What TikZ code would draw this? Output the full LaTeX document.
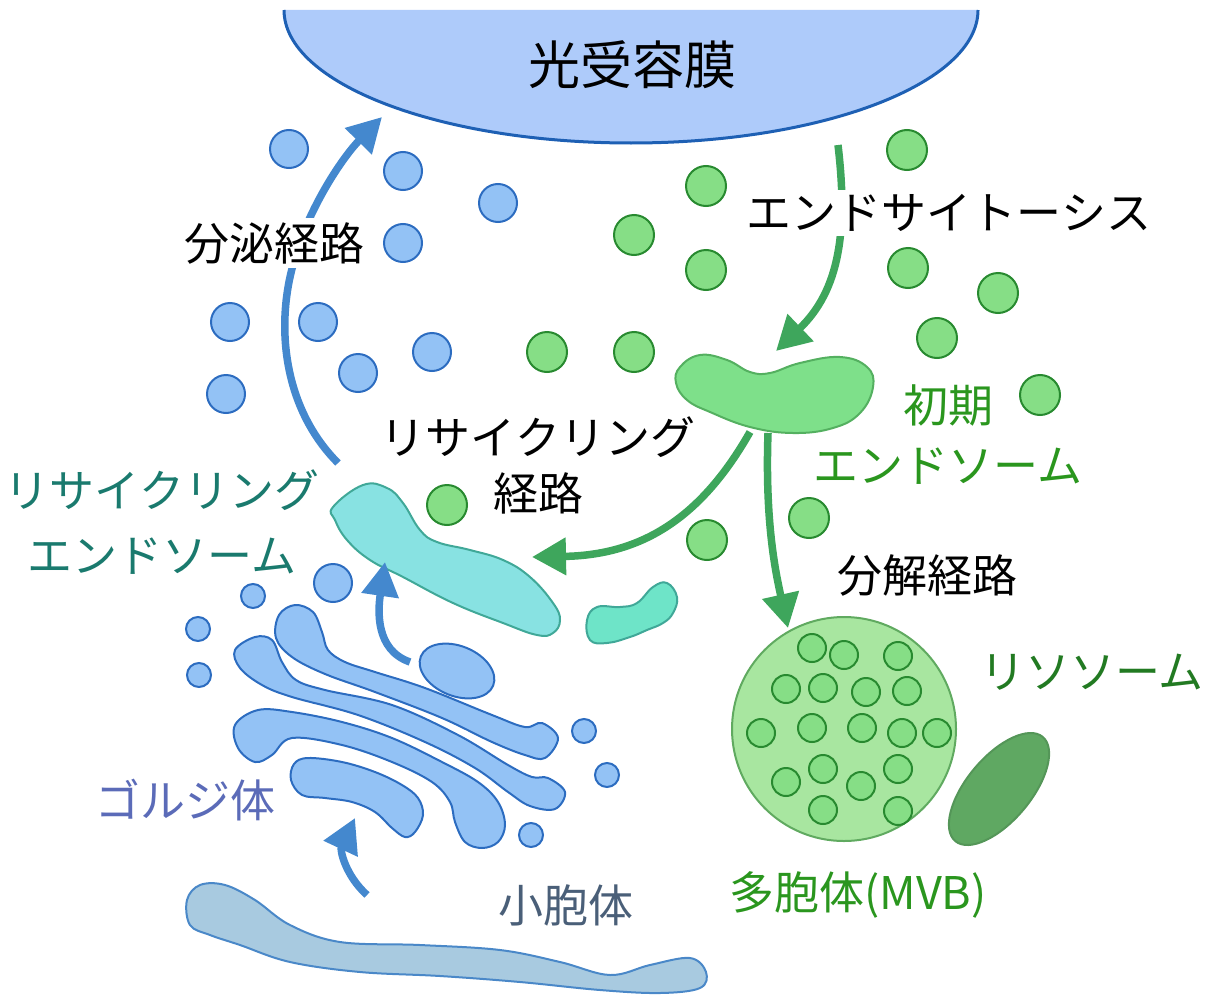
\documentclass[tikz,border=0pt]{standalone}
\usepackage{fontspec}
\setmainfont{Noto Sans CJK JP}
\usepackage{tikz}
\usepackage{xcolor}
\definecolor{cellmembrane}{RGB}{174, 203, 250}
\definecolor{cellmembraneline}{RGB}{30, 96, 180}
\definecolor{cellblue}{RGB}{147, 194, 245}
\definecolor{cellblueline}{RGB}{44, 108, 192}
\definecolor{cellarrowblue}{RGB}{68, 136, 206}
\definecolor{cellgreen}{RGB}{134, 222, 134}
\definecolor{cellgreenline}{RGB}{40, 138, 48}
\definecolor{cellarrowgreen}{RGB}{62, 166, 92}
\definecolor{cellearly}{RGB}{126, 224, 138}
\definecolor{cellearlyline}{RGB}{84, 176, 96}
\definecolor{cellteal}{RGB}{136, 226, 226}
\definecolor{cellmint}{RGB}{110, 228, 200}
\definecolor{celltealline}{RGB}{64, 168, 152}
\definecolor{cellmvb}{RGB}{168, 230, 160}
\definecolor{cellmvbline}{RGB}{96, 170, 96}
\definecolor{celllyso}{RGB}{95, 168, 98}
\definecolor{celllysoline}{RGB}{84, 150, 88}
\definecolor{cellER}{RGB}{168, 202, 224}
\definecolor{cellERline}{RGB}{74, 136, 200}
\definecolor{textgreen}{RGB}{42, 150, 30}
\definecolor{textdarkgreen}{RGB}{34, 122, 34}
\definecolor{textteal}{RGB}{26, 122, 110}
\definecolor{textgolgi}{RGB}{91, 107, 184}
\definecolor{textER}{RGB}{74, 95, 120}
\usetikzlibrary{arrows.meta}

\begin{document}
\begin{tikzpicture}[x=0.5pt, y=-0.5pt,
    bluevesicle/.style={line width=1pt, fill=cellblue, draw=cellblueline},
    greenvesicle/.style={line width=1pt, fill=cellgreen, draw=cellgreenline},
    golgi/.style={line width=1pt, fill=cellblue, draw=cellblueline},
    pathway/.style={line width=3.75pt, draw=#1, -{Triangle[length=17pt, width=18pt]}},
    lbl/.style={font=\fontsize{22.5pt}{30pt}\selectfont, align=center, inner sep=2pt}]
    \useasboundingbox (0, 0) rectangle (1208, 995);

    % Photoreceptor membrane
    \fill[cellmembrane] (284, 10) arc[start angle=180, end angle=0, x radius=347, y radius=133] -- cycle;
    \draw[cellmembraneline, line width=1.5pt] (284, 10) arc[start angle=180, end angle=0, x radius=347, y radius=133];

    % Vesicles on the secretory side
    \foreach \x/\y/\r in {289/149/19, 403/171/19, 498/203/19, 403/243/19, 230/322/19, 318/322/19,
                          358/373/19, 432/352/19, 226/394/19, 333/583/19, 253/596/12, 198/629/12,
                          199/675/12, 584/731/12, 607/775/12, 531/835/12} {
        \draw[bluevesicle] (\x, \y) circle (\r);
    }

    % Endocytic vesicles
    \foreach \x/\y in {907/150, 706/186, 634/235, 706/270, 908/268, 998/293, 937/338, 1040/395,
                       547/352, 634/352, 447/505, 707/540, 809/518} {
        \draw[greenvesicle] (\x, \y) circle (20);
    }

    % Early endosome
    \draw[fill=cellearly, draw=cellearlyline, line width=1pt] plot[smooth cycle, tension=0.7] coordinates {
        (700, 355) (727, 360) (750, 372) (770, 373) (800, 363) (840, 357) (867, 367) (873, 387)
        (860, 413) (833, 428) (793, 433) (750, 427) (710, 412) (687, 400) (676, 383) (680, 367)
    };

    % Recycling endosomes
    \draw[fill=cellteal, draw=celltealline, line width=1pt] plot[smooth cycle, tension=0.7] coordinates {
        (333, 507) (363, 485) (387, 488) (403, 503) (420, 530) (437, 542) (470, 550) (503, 560)
        (530, 577) (553, 603) (560, 620) (553, 633) (537, 635) (503, 623) (453, 603) (403, 577)
        (370, 560) (347, 540) (335, 520)
    };
    \draw[fill=cellmint, draw=celltealline, line width=1pt] plot[smooth cycle, tension=0.7] coordinates {
        (587, 620) (597, 607) (620, 607) (637, 603) (653, 587) (667, 583) (677, 597) (673, 613)
        (663, 623) (647, 630) (630, 637) (607, 643) (590, 640)
    };

    % Golgi stack
    \draw[golgi] plot[smooth cycle, tension=0.6] coordinates {
        (295, 605) (313, 612) (322, 632) (328, 650) (345, 662) (375, 672) (425, 688) (492, 715)
        (525, 727) (542, 723) (558, 738) (545, 758) (525, 755) (492, 742) (442, 718) (375, 692)
        (325, 674) (292, 657) (276, 638) (279, 615)
    };
    \draw[golgi] plot[smooth cycle, tension=0.6] coordinates {
        (255, 637) (272, 640) (282, 662) (296, 680) (325, 690) (392, 705) (458, 735) (508, 765)
        (532, 777) (548, 778) (565, 792) (555, 809) (530, 806) (508, 792) (475, 768) (425, 742)
        (358, 715) (292, 697) (262, 685) (240, 668) (235, 650)
    };
    \draw[golgi] plot[smooth cycle, tension=0.6] coordinates {
        (258, 710) (292, 712) (342, 722) (392, 738) (442, 762) (478, 782) (498, 802) (505, 825)
        (498, 842) (482, 848) (465, 842) (455, 822) (450, 802) (432, 782) (392, 762) (342, 745)
        (292, 738) (272, 755) (255, 762) (238, 748) (235, 725)
    };
    \draw[golgi] plot[smooth cycle, tension=0.6] coordinates {
        (308, 758) (342, 762) (375, 772) (402, 785) (418, 798) (423, 815) (415, 832) (405, 837)
        (392, 828) (375, 812) (352, 802) (325, 798) (302, 795) (291, 780) (294, 764)
    };
    \draw[golgi] (457, 671) ellipse[x radius=39, y radius=25, rotate=-22];

    % Smooth ER
    \draw[fill=cellER, draw=cellERline, line width=1pt] plot[smooth cycle, tension=0.6] coordinates {
        (187, 900) (200, 885) (225, 885) (255, 900) (290, 925) (340, 942) (420, 945) (500, 950)
        (560, 962) (610, 975) (650, 965) (690, 958) (706, 972) (700, 988) (660, 993) (600, 990)
        (520, 982) (440, 976) (360, 972) (290, 962) (240, 945) (210, 935) (190, 925)
    };

    % Multivesicular body and lysosome
    \draw[fill=cellmvb, draw=cellmvbline, line width=1pt] (844, 729) circle (112);
    \foreach \x/\y in {812/648, 844/655, 898/656, 786/689, 823/688, 866/692, 907/691, 761/733, 812/728,
                       862/728, 902/733, 937/733, 823/769, 898/769, 786/782, 861/786, 823/810, 898/811} {
        \draw[greenvesicle] (\x, \y) circle (14);
    }
    \draw[fill=celllyso, draw=celllysoline, line width=1pt] (999, 789) ellipse[x radius=68, y radius=32, rotate=50];

    % Arrow ends
    \coordinate (re top) at (338, 463);
    \coordinate (mem left) at (382, 117);
    \coordinate (mem right) at (838, 145);
    \coordinate (ee top) at (776, 351);
    \coordinate (ee left) at (750, 432);
    \coordinate (re right) at (532, 557);
    \coordinate (ee bottom) at (768, 433);
    \coordinate (mvb top) at (788, 628);
    \coordinate (golgi top) at (410, 662);
    \coordinate (re bottom) at (385, 562);
    \coordinate (er top) at (367, 895);
    \coordinate (golgi bottom) at (355, 818);

    % Pathways
    \draw[pathway=cellarrowblue] (re top) .. controls (285, 410) and (275, 330) .. (293, 265)
        .. controls (305, 215) and (340, 160) .. (mem left);
    \draw[pathway=cellarrowgreen] (mem right) .. controls (848, 230) and (840, 290) .. (ee top);
    \draw[pathway=cellarrowgreen] (ee left) .. controls (700, 520) and (640, 555) .. (re right);
    \draw[pathway=cellarrowgreen] (ee bottom) .. controls (765, 520) and (775, 570) .. (mvb top);
    \draw[pathway=cellarrowblue] (golgi top) .. controls (375, 650) and (378, 610) .. (re bottom);
    \draw[pathway=cellarrowblue] (er top) .. controls (345, 875) and (340, 850) .. (golgi bottom);

    % Labels
    \node[lbl, font=\fontsize{26pt}{30pt}\selectfont] (membrane) at (632, 65) {光受容膜};
    \node[lbl, fill=white] (endocytosis) at (949, 213) {エンドサイトーシス};
    \node[lbl, fill=white] (secretion) at (274, 243) {分泌経路};
    \node[lbl, font=\fontsize{22.5pt}{28pt}\selectfont] (recycling) at (538, 465) {リサイクリング\\経路};
    \node[lbl, text=textgreen] (early) at (948, 435) {初期\\エンドソーム};
    \node[lbl, text=textteal, font=\fontsize{22.5pt}{32.5pt}\selectfont] (recycling endosome) at (162, 522) {リサイクリング\\エンドソーム};
    \node[lbl] (degradation) at (927, 575) {分解経路};
    \node[lbl, text=textdarkgreen] (lysosome) at (1092, 672) {リソソーム};
    \node[lbl, text=textgolgi] (golgi) at (185, 800) {ゴルジ体};
    \node[lbl, text=textER] (er) at (566, 905) {小胞体};
    \node[lbl, text=textgreen] (mvb) at (858, 895) {多胞体(MVB)};
\end{tikzpicture}
\end{document}
